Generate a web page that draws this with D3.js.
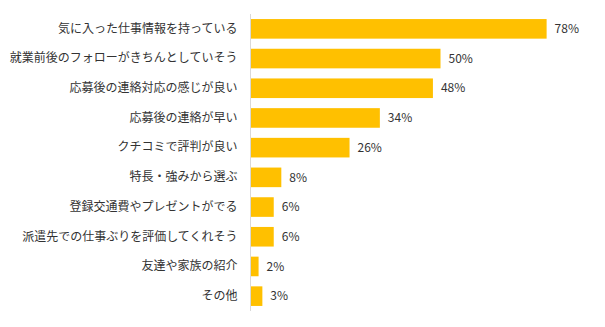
<!DOCTYPE html>
<html>
<head>
<meta charset="utf-8">
<script src="https://cdn.jsdelivr.net/npm/d3@7"></script>
<style>
  html, body { margin: 0; padding: 0; background: #fff; }
  svg { display: block; }
  text { font-family: "Noto Sans CJK JP", "Noto Sans", sans-serif; }
</style>
</head>
<body>
<svg id="chart" width="605" height="327"></svg>
<script>
// Reasons for choosing a staffing agency (%)
const categories = [
  "気に入った仕事情報を持っている",
  "就業前後のフォローがきちんとしていそう",
  "応募後の連絡対応の感じが良い",
  "応募後の連絡が早い",
  "クチコミで評判が良い",
  "特長・強みから選ぶ",
  "登録交通費やプレゼントがでる",
  "派遣先での仕事ぶりを評価してくれそう",
  "友達や家族の紹介",
  "その他"
];
const values = [78, 50, 48, 34, 26, 8, 6, 6, 2, 3];
const valueLabels = values.map(v => v + "%");

const svg = d3.select("#chart");
const axisX = 250;

const x = d3.scaleLinear().domain([0, 100]).range([axisX, axisX + 379]);
const y = d3.scaleBand().domain(categories).range([14, 311]).paddingInner(0.34).paddingOuter(0.17);

// bars
svg.append("g").selectAll("rect")
  .data(values)
  .join("rect")
  .attr("x", x(0) + 1)
  .attr("y", (d, i) => y(categories[i]))
  .attr("width", d => x(d) - x(0))
  .attr("height", y.bandwidth())
  .attr("fill", "#FFC000");

// category axis
const yAxis = d3.axisLeft(y).tickSize(0).tickPadding(13);
const gy = svg.append("g").attr("transform", `translate(${axisX + 0.5},0)`).call(yAxis);
gy.select(".domain").attr("stroke", "#d9d9d9").attr("d", "M0,14V311");
gy.selectAll("text")
  .attr("font-size", 12)
  .attr("fill", "#333")
  .style("font-family", '"Noto Sans CJK JP", sans-serif');

// value labels
svg.append("g").selectAll("text")
  .data(values)
  .join("text")
  .attr("x", d => x(d) + 9)
  .attr("y", (d, i) => y(categories[i]) + y.bandwidth() / 2)
  .attr("dy", "0.35em")
  .attr("font-size", 12)
  .attr("fill", "#333")
  .text((d, i) => valueLabels[i]);
</script>
</body>
</html>
